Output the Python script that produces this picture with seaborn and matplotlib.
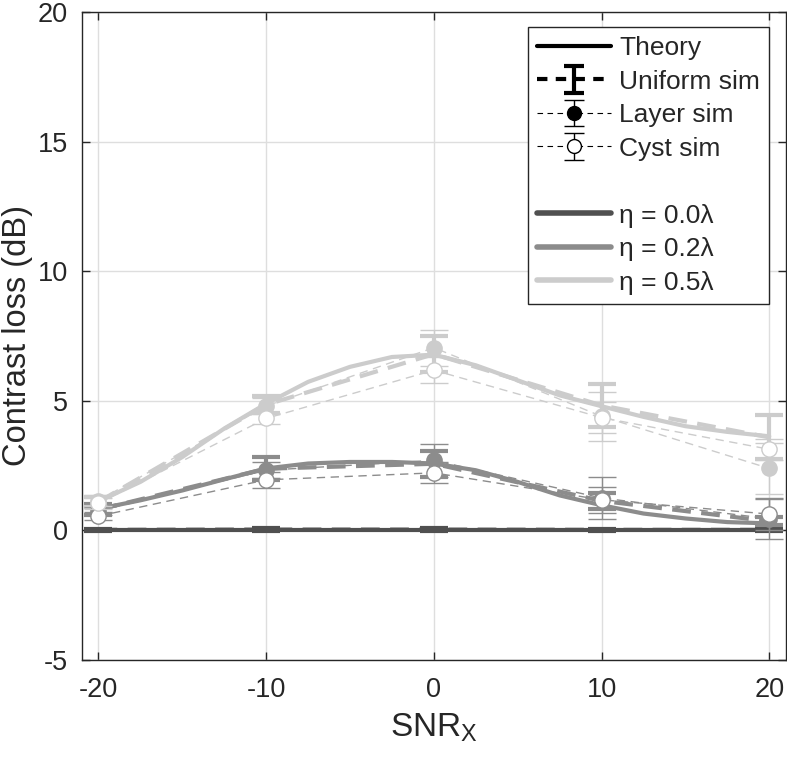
import numpy as np
import pandas as pd
import seaborn as sns
import matplotlib.pyplot as plt
from matplotlib.lines import Line2D

# Theory curves
snr_theory = [-20, -17.5, -15, -12.5, -10, -7.5, -5, -2.5, 0, 2.5, 5, 7.5, 10, 12.5, 15, 17.5, 20]
theory_00 = [0.0] * 17
theory_02 = [0.83, 1.16, 1.54, 1.97, 2.39, 2.58, 2.64, 2.64, 2.58, 2.32, 1.87, 1.35, 0.97, 0.65, 0.46, 0.32, 0.27]
theory_05 = [1.12, 1.87, 2.83, 3.93, 4.89, 5.73, 6.31, 6.69, 6.78, 6.37, 5.79, 5.21, 4.79, 4.38, 4.02, 3.80, 3.63]

# Simulation points (uniform sim for all eta, layer/cyst only shown for eta > 0)
snr_sim = [-20, -10, 0, 10, 20]
uniform_00 = [0.02, 0.03, 0.03, 0.02, 0.02]
uniform_00_err = [0.05, 0.05, 0.05, 0.05, 0.05]
uniform_02 = [0.80, 2.38, 2.57, 1.14, 0.35]
uniform_02_err = [0.20, 0.45, 0.50, 0.30, 0.15]
uniform_05 = [1.10, 4.85, 6.80, 4.82, 3.59]
uniform_05_err = [0.20, 0.33, 0.70, 0.83, 0.85]

layer_02 = [0.75, 2.32, 2.70, 1.25, 0.45]
layer_02_err = [0.15, 0.30, 0.65, 0.80, 0.80]
layer_05 = [1.15, 4.80, 7.05, 4.40, 2.39]
layer_05_err = [0.20, 0.30, 0.70, 0.95, 1.00]

cyst_02 = [0.55, 1.95, 2.22, 1.18, 0.63]
cyst_02_err = [0.15, 0.30, 0.40, 0.50, 0.60]
cyst_05 = [1.04, 4.32, 6.18, 4.35, 3.13]
cyst_05_err = [0.20, 0.20, 0.50, 0.60, 0.40]

eta_labels = ['η = 0.0λ', 'η = 0.2λ', 'η = 0.5λ']
eta_palette = {'η = 0.0λ': '#505050', 'η = 0.2λ': '#8c8c8c', 'η = 0.5λ': '#cccccc'}

sns.set_style('ticks')
plt.rcParams['font.family'] = ['Liberation Sans', 'DejaVu Sans']
plt.rcParams['mathtext.fontset'] = 'custom'
plt.rcParams['mathtext.rm'] = 'Liberation Sans'
plt.rcParams['axes.unicode_minus'] = False

fig = plt.figure(figsize=(7.87, 7.6), dpi=100)
ax = fig.add_axes([0.1038, 0.1316, 0.895, 0.8526])

# theory lines
theory = pd.DataFrame({
    'SNR': snr_theory * 3,
    'loss': theory_00 + theory_02 + theory_05,
    'eta': sum([[e] * len(snr_theory) for e in eta_labels], []),
})
sns.lineplot(data=theory, x='SNR', y='loss', hue='eta', palette=eta_palette,
             linewidth=3, legend=False, ax=ax, zorder=3)

uniform = {'η = 0.0λ': (uniform_00, uniform_00_err),
           'η = 0.2λ': (uniform_02, uniform_02_err),
           'η = 0.5λ': (uniform_05, uniform_05_err)}
layer = {'η = 0.2λ': (layer_02, layer_02_err), 'η = 0.5λ': (layer_05, layer_05_err)}
cyst = {'η = 0.2λ': (cyst_02, cyst_02_err), 'η = 0.5λ': (cyst_05, cyst_05_err)}

for eta in eta_labels:
    c = eta_palette[eta]
    um, ue = uniform[eta]
    ax.errorbar(snr_sim, um, yerr=ue, color=c, lw=3, ls=(0, (4.5, 2.5)),
                capsize=10, capthick=3, elinewidth=3, zorder=4)
    if eta in layer:
        lm, le = layer[eta]
        ax.errorbar(snr_sim, lm, yerr=le, color=c, lw=1, ls=(0, (6, 4)),
                    marker='o', ms=11, mfc=c, mec=c, capsize=10, capthick=1,
                    elinewidth=1, zorder=5)
        cm, ce = cyst[eta]
        ax.errorbar(snr_sim, cm, yerr=ce, color=c, lw=1, ls=(0, (6, 4)),
                    marker='o', ms=11, mfc='white', mec=c, capsize=10, capthick=1,
                    elinewidth=1, zorder=6)

ax.set_xlim(-21, 21)
ax.set_ylim(-5, 20)
ax.set_xticks([-20, -10, 0, 10, 20])
ax.set_yticks([-5, 0, 5, 10, 15, 20])
ax.grid(True, color='#dedede', lw=1)
ax.set_axisbelow(True)
ax.tick_params(direction='in', length=6, width=1, top=True, right=True,
               labelsize=19.5, colors='#262626')
ax.tick_params(axis='x', pad=12)
ax.tick_params(axis='y', pad=10)
for s in ax.spines.values():
    s.set_color('#262626')
    s.set_linewidth(1)
ax.set_xlabel('SNR$_\\mathregular{X}$', fontsize=24, color='#262626', labelpad=6)
ax.set_ylabel('Contrast loss (dB)', fontsize=23.5, color='#262626', labelpad=3)

# legend
k = 'black'
h_theory = Line2D([], [], color=k, lw=3)
h_uni = ax.errorbar([np.nan], [np.nan], yerr=[np.nan], color=k, lw=3, ls=(0, (2.5, 2)),
                    capsize=7, capthick=3, elinewidth=3)
h_layer = ax.errorbar([np.nan], [np.nan], yerr=[np.nan], color=k, lw=0.8, ls=(0, (5, 4)),
                      marker='o', ms=10, mfc=k, mec=k, capsize=7, capthick=1, elinewidth=1)
h_cyst = ax.errorbar([np.nan], [np.nan], yerr=[np.nan], color=k, lw=0.8, ls=(0, (5, 4)),
                     marker='o', ms=10, mfc='white', mec=k, capsize=7, capthick=1, elinewidth=1)
h_blank = Line2D([], [], color='none')
h_eta = [Line2D([], [], color=eta_palette[e], lw=4) for e in eta_labels]

leg = ax.legend([h_theory, h_uni, h_layer, h_cyst, h_blank] + h_eta,
                ['Theory', 'Uniform sim', 'Layer sim', 'Cyst sim', ' '] + eta_labels,
                loc='upper right', bbox_to_anchor=(0.976, 0.977), borderaxespad=0,
                fontsize=19, handlelength=2.8, handletextpad=0.3, labelspacing=0.36,
                borderpad=0.35, frameon=True, fancybox=False, framealpha=1)
leg.get_frame().set_edgecolor('#262626')
leg.get_frame().set_linewidth(1)

plt.savefig('out.png', dpi=100)
